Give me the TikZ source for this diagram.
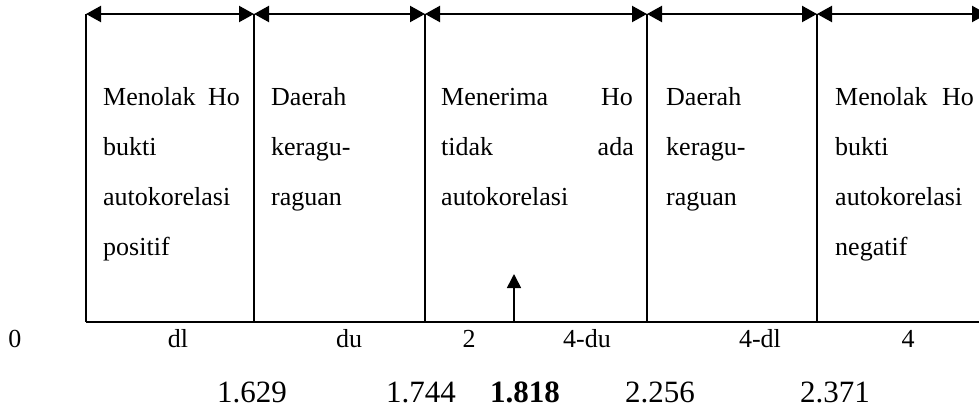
\documentclass[tikz,border=0pt]{standalone}
\usepackage{fontspec}
\setmainfont{Liberation Serif}
\usetikzlibrary{arrows.meta}
\begin{document}
\begin{tikzpicture}[x=1pt,y=-1pt,
  txt/.style={anchor=base west, inner sep=0pt, font=\fontsize{26}{30}\selectfont},
  txte/.style={anchor=base east, inner sep=0pt, font=\fontsize{26}{30}\selectfont},
  lab/.style={anchor=base, inner sep=0pt, font=\fontsize{26}{30}\selectfont},
  num/.style={anchor=base, inner sep=0pt, font=\fontsize{31}{36}\selectfont},
  seg/.style={line width=2.2pt, {Triangle[length=15pt,width=16pt]}-{Triangle[length=15pt,width=16pt]}},
  wall/.style={line width=2pt},
  base/.style={line width=2.2pt},
  up/.style={line width=1.6pt, -{Triangle[length=14pt,width=14pt]}}]
\useasboundingbox (0,0) rectangle (979,417);
\clip (0,0) rectangle (979,417);
% top coordinates
\coordinate (t0) at (86,14);
\coordinate (t1) at (254,14);
\coordinate (t2) at (425,14);
\coordinate (t3) at (647,14);
\coordinate (t4) at (817,14);
\coordinate (t5) at (987,14);
% bottom coordinates
\coordinate (b0) at (86,322);
\coordinate (b1) at (254,322);
\coordinate (b2) at (425,322);
\coordinate (b3) at (647,322);
\coordinate (b4) at (817,322);
\coordinate (b5) at (990,322);
% walls
\draw[wall] (t0) -- (b0);
\draw[wall] (t1) -- (b1);
\draw[wall] (t2) -- (b2);
\draw[wall] (t3) -- (b3);
\draw[wall] (t4) -- (b4);
\draw[base] (b0) -- (b5);
% top arrows
\draw[seg] (t0) -- (t1);
\draw[seg] (t1) -- (t2);
\draw[seg] (t2) -- (t3);
\draw[seg] (t3) -- (t4);
\draw[seg] (t4) -- (t5);
% box 1
\node[txt] (a1) at (103,106) {Menolak};
\node[txte] (a1h) at (240,106) {Ho};
\node[txt] (a2) at (103,155) {bukti};
\node[txt] (a3) at (103,205) {autokorelasi};
\node[txt] (a4) at (103,255) {positif};
% box 2
\node[txt] (d1) at (271,106) {Daerah};
\node[txt] (d2) at (271,155) {keragu-};
\node[txt] (d3) at (271,205) {raguan};
% box 3
\node[txt] (m1) at (441,106) {Menerima};
\node[txte] (m1h) at (633,106) {Ho};
\node[txt] (m2) at (441,155) {tidak};
\node[txte] (m2a) at (634,155) {ada};
\node[txt] (m3) at (441,205) {autokorelasi};
% box 4
\node[txt] (e1) at (666,106) {Daerah};
\node[txt] (e2) at (666,155) {keragu-};
\node[txt] (e3) at (666,205) {raguan};
% box 5
\node[txt] (n1) at (835,106) {Menolak};
\node[txte] (n1h) at (974,106) {Ho};
\node[txt] (n2) at (835,155) {bukti};
\node[txt] (n3) at (835,205) {autokorelasi};
\node[txt] (n4) at (835,255) {negatif};
% up arrow
\coordinate (u0) at (514,322);
\coordinate (u1) at (514,274);
\draw[up] (u0) -- (u1);
% axis labels
\node[lab] (l0) at (15,347) {0};
\node[lab] (l1) at (178,347) {dl};
\node[lab] (l2) at (349,347) {du};
\node[lab] (l3) at (469,347) {2};
\node[lab] (l4) at (587,347) {4-du};
\node[lab] (l5) at (760,347) {4-dl};
\node[lab] (l6) at (908,347) {4};
% values
\node[num] (v1) at (252,402) {1.629};
\node[num] (v2) at (421,402) {1.744};
\node[num] (v3) at (525,402) {\bfseries 1.818};
\node[num] (v4) at (660,402) {2.256};
\node[num] (v5) at (835,402) {2.371};
\end{tikzpicture}
\end{document}
